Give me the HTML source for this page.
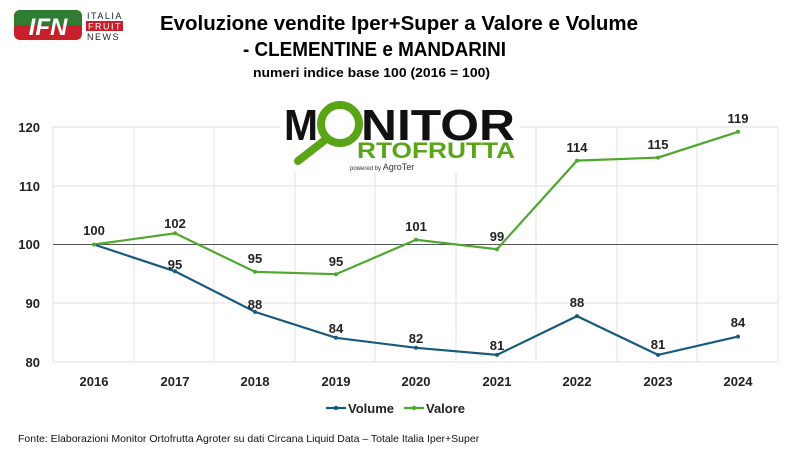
<!DOCTYPE html>
<html><head><meta charset="utf-8"><style>
body{margin:0;width:800px;height:450px;background:#fff;overflow:hidden;font-family:"Liberation Sans",sans-serif;}
</style></head><body>
<svg width="800" height="450" viewBox="0 0 800 450" xmlns="http://www.w3.org/2000/svg" font-family="Liberation Sans, sans-serif">
<!-- IFN logo -->
<rect x="14" y="10" width="68" height="30" rx="6" fill="#c8202a"/>
<rect x="14" y="10" width="68" height="15" rx="6" fill="#2e7d32"/>
<rect x="14" y="18" width="68" height="7" fill="#2e7d32"/>
<text x="48" y="35" font-size="24" font-weight="bold" fill="#fff" text-anchor="middle" font-style="italic">IFN</text>
<text x="87" y="19" font-size="9" letter-spacing="1.5" fill="#222">ITALIA</text>
<rect x="86" y="21" width="37" height="10" fill="#c8202a"/>
<text x="88" y="29.5" font-size="9" letter-spacing="1.5" fill="#fff">FRUIT</text>
<text x="87" y="40" font-size="9" letter-spacing="1.5" fill="#222">NEWS</text>
<!-- Titles -->
<text x="160" y="30" font-size="20" font-weight="bold" fill="#000" textLength="478" lengthAdjust="spacingAndGlyphs">Evoluzione vendite Iper+Super a Valore e Volume</text>
<text x="243" y="56" font-size="20" font-weight="bold" fill="#000" textLength="263" lengthAdjust="spacingAndGlyphs">- CLEMENTINE e MANDARINI</text>
<text x="253" y="77" font-size="13" font-weight="bold" fill="#000" textLength="237" lengthAdjust="spacingAndGlyphs">numeri indice base 100 (2016  = 100)</text>
<!-- grid -->
<g stroke="#e2e2e2" stroke-width="1">
<line x1="53" y1="127" x2="778" y2="127"/><line x1="53" y1="186" x2="778" y2="186"/><line x1="53" y1="303" x2="778" y2="303"/><line x1="53" y1="362" x2="778" y2="362"/>
<line x1="53" y1="127" x2="53" y2="362"/><line x1="134" y1="127" x2="134" y2="362"/><line x1="214" y1="127" x2="214" y2="362"/><line x1="295" y1="127" x2="295" y2="362"/><line x1="375" y1="127" x2="375" y2="362"/><line x1="456" y1="127" x2="456" y2="362"/><line x1="536" y1="127" x2="536" y2="362"/><line x1="617" y1="127" x2="617" y2="362"/><line x1="697" y1="127" x2="697" y2="362"/><line x1="778" y1="127" x2="778" y2="362"/>
</g>
<line x1="53" y1="244.5" x2="778" y2="244.5" stroke="#555" stroke-width="1"/>
<!-- y labels -->
<g font-size="13" font-weight="bold" fill="#222" text-anchor="end">
<text x="40" y="132">120</text><text x="40" y="191">110</text><text x="40" y="249">100</text><text x="40" y="308">90</text><text x="40" y="367">80</text>
</g>
<g font-size="13" font-weight="bold" fill="#222" text-anchor="middle">
<text x="94" y="386">2016</text><text x="175" y="386">2017</text><text x="255" y="386">2018</text><text x="336" y="386">2019</text><text x="416" y="386">2020</text><text x="497" y="386">2021</text><text x="577" y="386">2022</text><text x="658" y="386">2023</text><text x="738" y="386">2024</text>
</g>
<!-- Monitor logo -->
<rect x="280" y="100" width="240" height="72" fill="#fff"/>
<text x="284" y="140" font-size="44" font-weight="bold" fill="#111" textLength="34" lengthAdjust="spacingAndGlyphs">M</text>
<circle cx="340" cy="124" r="19" fill="none" stroke="#5aa418" stroke-width="8"/>
<line x1="325" y1="140" x2="298" y2="161" stroke="#5aa418" stroke-width="8" stroke-linecap="round"/>
<text x="361" y="140" font-size="44" font-weight="bold" fill="#111" textLength="154" lengthAdjust="spacingAndGlyphs">NITOR</text>
<text x="357" y="158" font-size="22" font-weight="bold" fill="#5aa418" textLength="158" lengthAdjust="spacingAndGlyphs">RTOFRUTTA</text>
<text x="350" y="170" font-size="6" fill="#333">powered by <tspan font-size="9">AgroTer</tspan></text>
<!-- Series -->
<polyline fill="none" stroke="#4ea72e" stroke-width="2.2" points="94,244.5 175,233.3 255,271.8 336,274.2 416,239.8 497,249.2 577,160.6 658,157.6 738,131.8"/>
<polyline fill="none" stroke="#185a7d" stroke-width="2.2" points="94,244.5 175,271.3 255,311.9 336,337.8 416,347.8 497,354.9 577,316.1 658,354.9 738,336.6"/>
<g fill="#4ea72e"><circle cx="94" cy="244.5" r="2"/><circle cx="175" cy="233.3" r="2"/><circle cx="255" cy="271.8" r="2"/><circle cx="336" cy="274.2" r="2"/><circle cx="416" cy="239.8" r="2"/><circle cx="497" cy="249.2" r="2"/><circle cx="577" cy="160.6" r="2"/><circle cx="658" cy="157.6" r="2"/><circle cx="738" cy="131.8" r="2"/></g>
<g fill="#185a7d"><circle cx="175" cy="271.3" r="2"/><circle cx="255" cy="311.9" r="2"/><circle cx="336" cy="337.8" r="2"/><circle cx="416" cy="347.8" r="2"/><circle cx="497" cy="354.9" r="2"/><circle cx="577" cy="316.1" r="2"/><circle cx="658" cy="354.9" r="2"/><circle cx="738" cy="336.6" r="2"/></g>
<!-- data labels -->
<g font-size="13" font-weight="bold" fill="#222" text-anchor="middle">
<text x="94" y="235">100</text><text x="175" y="228">102</text><text x="255" y="263">95</text><text x="336" y="266">95</text><text x="416" y="231">101</text><text x="497" y="241">99</text><text x="577" y="152">114</text><text x="658" y="149">115</text><text x="738" y="123">119</text>
<text x="175" y="269">95</text><text x="255" y="309">88</text><text x="336" y="333">84</text><text x="416" y="343">82</text><text x="497" y="350">81</text><text x="577" y="307">88</text><text x="658" y="349">81</text><text x="738" y="327">84</text>
</g>
<!-- legend -->
<line x1="326" y1="408" x2="346" y2="408" stroke="#185a7d" stroke-width="2.2"/><circle cx="336" cy="408" r="2.2" fill="#185a7d"/>
<text x="348" y="413" font-size="13" font-weight="bold" fill="#222">Volume</text>
<line x1="404" y1="408" x2="424" y2="408" stroke="#4ea72e" stroke-width="2.2"/><circle cx="414" cy="408" r="2.2" fill="#4ea72e"/>
<text x="426" y="413" font-size="13" font-weight="bold" fill="#222">Valore</text>
<text x="18" y="442" font-size="10.5" fill="#111">Fonte: Elaborazioni Monitor Ortofrutta Agroter su dati Circana Liquid Data – Totale Italia Iper+Super</text>
</svg>
</body></html>
